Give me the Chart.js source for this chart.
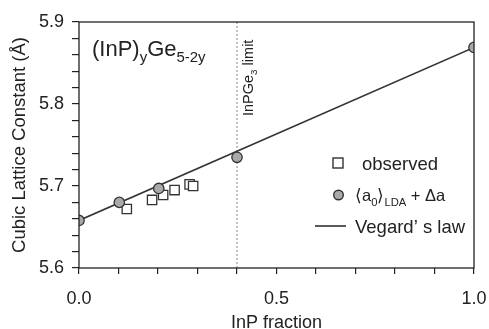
<!DOCTYPE html>
<html lang="en">
<head>
    <meta charset="UTF-8">
    <title>InPGe lattice constant</title>
    <style>
        html, body { margin: 0; padding: 0; background: #fff; }
        #wrap { width: 489px; height: 329px; }
    </style>
</head>
<body>
    <div id="wrap"><canvas id="myChart"></canvas></div>

    <script src="https://cdn.jsdelivr.net/npm/chart.js"></script>
    <script>
        // observed lattice constants (squares)
        const observedX = [0.121, 0.185, 0.213, 0.242, 0.280, 0.289];
        const observedY = [5.672, 5.683, 5.689, 5.695, 5.702, 5.700];
        // <a0>LDA + delta a (grey circles)
        const ldaX = [0.0, 0.102, 0.202, 0.40, 1.0];
        const ldaY = [5.658, 5.680, 5.697, 5.735, 5.869];
        // Vegard's law end points
        const vegardX = [0.0, 1.0];
        const vegardY = [5.658, 5.869];
        // InPGe3 limit marker
        const limitX = [0.4, 0.4];
        const limitY = [5.6, 5.9];
        // labelled ticks
        const xTickLabels = [0.0, 0.5, 1.0];
        const yTickLabels = [5.6, 5.7, 5.8, 5.9];

        const FONT = 'Liberation Sans, Arial, sans-serif';
        const ink = '#222';

        const toPoints = (xs, ys) => xs.map((x, i) => ({ x, y: ys[i] }));
        const near = (v, list) => list.some(t => Math.abs(v - t) < 1e-6);

        // draws text with a subscript part: parts = [[text, isSub], ...]
        function drawRich(ctx, parts, x, y, size) {
            let cx = x;
            parts.forEach(([txt, sub]) => {
                const s = sub ? size * 0.68 : size;
                ctx.font = s + 'px ' + FONT;
                ctx.fillText(txt, cx, sub ? y + size * 0.28 : y);
                cx += ctx.measureText(txt).width;
            });
        }

        const decorations = {
            id: 'decorations',
            afterDatasetsDraw(chart) {
                const { ctx, chartArea: a } = chart;
                ctx.save();
                // frame
                ctx.strokeStyle = ink;
                ctx.lineWidth = 1.3;
                ctx.strokeRect(a.left, a.top, a.right - a.left, a.bottom - a.top);

                ctx.fillStyle = ink;
                ctx.textBaseline = 'alphabetic';
                ctx.textAlign = 'left';
                // formula label
                drawRich(ctx, [['(InP)', false], ['y', true], ['Ge', false], ['5-2y', true]], 92, 56, 22);

                // vertical limit label
                ctx.save();
                ctx.translate(253, 116);
                ctx.rotate(-Math.PI / 2);
                drawRich(ctx, [['InPGe', false], ['3', true], [' limit', false]], 0, 0, 14.5);
                ctx.restore();

                // legend
                ctx.lineWidth = 1.4;
                ctx.strokeStyle = '#333';
                ctx.fillStyle = '#fff';
                ctx.fillRect(333, 158, 10, 10);
                ctx.strokeRect(333, 158, 10, 10);
                ctx.fillStyle = '#aaa';
                ctx.beginPath();
                ctx.arc(338.5, 195, 4.8, 0, Math.PI * 2);
                ctx.fill();
                ctx.stroke();
                ctx.lineWidth = 1.6;
                ctx.beginPath();
                ctx.moveTo(315, 226);
                ctx.lineTo(346, 226);
                ctx.stroke();

                ctx.fillStyle = ink;
                drawRich(ctx, [['observed', false]], 362, 170, 18.5);
                drawRich(ctx, [['\u27E8a', false], ['0', true], ['\u27E9', false], ['LDA', true], [' + \u0394a', false]], 355, 201, 16.5);
                drawRich(ctx, [['Vegard\u2019 s law', false]], 355, 233, 18.5);
                ctx.restore();
            }
        };

        const chart = new Chart(document.getElementById('myChart'), {
            type: 'scatter',
            data: {
                datasets: [
                    {
                        label: 'computed',
                        data: toPoints(ldaX, ldaY),
                        pointStyle: 'circle',
                        pointRadius: 5.2,
                        backgroundColor: '#a9a9a9',
                        borderColor: '#333',
                        borderWidth: 1.3,
                        order: 1
                    },
                    {
                        label: 'observed',
                        data: toPoints(observedX, observedY),
                        pointStyle: 'rect',
                        pointRadius: 6.6,
                        backgroundColor: '#fff',
                        borderColor: '#333',
                        borderWidth: 1.3,
                        order: 2
                    },
                    {
                        type: 'line',
                        label: 'Vegard',
                        data: toPoints(vegardX, vegardY),
                        borderColor: '#333',
                        borderWidth: 1.5,
                        pointRadius: 0,
                        order: 3
                    },
                    {
                        type: 'line',
                        label: 'limit',
                        data: toPoints(limitX, limitY),
                        borderColor: '#999',
                        borderWidth: 1.2,
                        borderDash: [2, 2],
                        pointRadius: 0,
                        order: 4
                    }
                ]
            },
            options: {
                responsive: true,
                maintainAspectRatio: false,
                animation: false,
                layout: { padding: { top: 22, right: 15, left: 0, bottom: 0 } },
                plugins: {
                    legend: { display: false },
                    tooltip: { enabled: false }
                },
                scales: {
                    x: {
                        type: 'linear',
                        min: 0,
                        max: 1,
                        afterFit: (s) => { s.height = 61; s.paddingLeft = 0; s.paddingRight = 0; },
                        border: { display: false },
                        grid: {
                            drawOnChartArea: false,
                            drawTicks: true,
                            tickLength: 6,
                            color: ink,
                            lineWidth: 1.2
                        },
                        ticks: {
                            stepSize: 0.1,
                            autoSkip: false,
                            maxRotation: 0,
                            color: ink,
                            font: { family: FONT, size: 18 },
                            padding: 14,
                            callback: (v) => near(v, xTickLabels) ? v.toFixed(1) : ''
                        },
                        title: {
                            display: true,
                            text: 'InP fraction',
                            color: ink,
                            font: { family: FONT, size: 18, lineHeight: 0.7 },
                            padding: { top: 0, bottom: 0 }
                        }
                    },
                    y: {
                        type: 'linear',
                        min: 5.6,
                        max: 5.9,
                        afterFit: (s) => { s.width = 79; },
                        border: { display: false },
                        grid: {
                            drawOnChartArea: false,
                            drawTicks: true,
                            tickLength: 7,
                            color: ink,
                            lineWidth: 1.2
                        },
                        ticks: {
                            stepSize: 0.02,
                            autoSkip: false,
                            color: ink,
                            font: { family: FONT, size: 18 },
                            padding: 8,
                            callback: (v) => near(v, yTickLabels) ? v.toFixed(1) : ''
                        },
                        title: {
                            display: true,
                            text: 'Cubic Lattice Constant (\u00C5)',
                            color: ink,
                            font: { family: FONT, size: 18.5 },
                            padding: { top: 9, bottom: 0 }
                        }
                    }
                }
            },
            plugins: [decorations]
        });
    </script>
</body>
</html>
